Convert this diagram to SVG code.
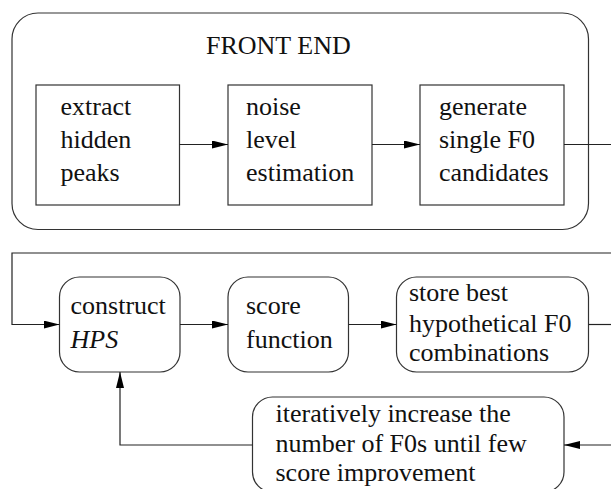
<svg xmlns="http://www.w3.org/2000/svg" width="611" height="489" viewBox="0 0 611 489">
<style>
.box{fill:#fff;stroke:#333;stroke-width:1.2}
.c{fill:none;stroke:#222;stroke-width:1.2}
</style>
<defs>
<marker id="ah" markerWidth="16" markerHeight="8" refX="16" refY="4" orient="auto" markerUnits="userSpaceOnUse">
<path d="M0,0 L16,4 L0,8 Z" fill="#000"/>
</marker>
</defs>
<g id="frontend">
<rect class="box" x="12" y="13" width="576.5" height="216.5" rx="26" ry="26"/>
<text x="206" y="54" font-family="Liberation Serif" font-size="26" fill="#111">FRONT END</text>
</g>
<g id="extract">
<rect class="box" x="36" y="85" width="143.5" height="120"/>
<text x="60.5" y="115" font-family="Liberation Serif" font-size="26" fill="#111">extract</text>
<text x="60.5" y="148" font-family="Liberation Serif" font-size="26" fill="#111">hidden</text>
<text x="60.5" y="181" font-family="Liberation Serif" font-size="26" fill="#111">peaks</text>
</g>
<g id="noise">
<rect class="box" x="228" y="85" width="144" height="120"/>
<text x="246" y="115" font-family="Liberation Serif" font-size="26" fill="#111">noise</text>
<text x="246" y="148" font-family="Liberation Serif" font-size="26" fill="#111">level</text>
<text x="246" y="181" font-family="Liberation Serif" font-size="26" fill="#111">estimation</text>
</g>
<g id="generate">
<rect class="box" x="420" y="85" width="144" height="120"/>
<text x="439" y="115" font-family="Liberation Serif" font-size="26" fill="#111">generate</text>
<text x="439" y="148" font-family="Liberation Serif" font-size="26" fill="#111">single F0</text>
<text x="439" y="181" font-family="Liberation Serif" font-size="26" fill="#111">candidates</text>
</g>
<g id="construct">
<rect class="box" x="59.5" y="277" width="120.5" height="95" rx="20" ry="20"/>
<text x="70.5" y="314" font-family="Liberation Serif" font-size="26" fill="#111">construct</text>
<text x="70.5" y="348" font-family="Liberation Serif" font-size="26" font-style="italic" fill="#111">HPS</text>
</g>
<g id="score">
<rect class="box" x="228" y="277" width="120.5" height="95" rx="20" ry="20"/>
<text x="246" y="314" font-family="Liberation Serif" font-size="26" fill="#111">score</text>
<text x="246" y="348" font-family="Liberation Serif" font-size="26" fill="#111">function</text>
</g>
<g id="store">
<rect class="box" x="396.5" y="277" width="192" height="95" rx="20" ry="20"/>
<text x="409" y="301" font-family="Liberation Serif" font-size="26" fill="#111">store best</text>
<text x="409" y="332" font-family="Liberation Serif" font-size="26" fill="#111">hypothetical F0</text>
<text x="409" y="361" font-family="Liberation Serif" font-size="26" fill="#111">combinations</text>
</g>
<g id="iterate">
<rect class="box" x="252.5" y="397" width="311.5" height="95" rx="20" ry="20"/>
<text x="275.5" y="422" font-family="Liberation Serif" font-size="26" fill="#111">iteratively increase the</text>
<text x="275.5" y="452" font-family="Liberation Serif" font-size="26" fill="#111">number of F0s until few</text>
<text x="275.5" y="481" font-family="Liberation Serif" font-size="26" fill="#111">score improvement</text>
</g>
<g id="connectors">
<line class="c" x1="179.5" y1="144.5" x2="228" y2="144.5" marker-end="url(#ah)"/>
<line class="c" x1="372" y1="144.5" x2="420" y2="144.5" marker-end="url(#ah)"/>
<line class="c" x1="564" y1="144.5" x2="612" y2="144.5"/>
<polyline class="c" points="612,253 12,253 12,324.5 59.5,324.5" marker-end="url(#ah)"/>
<line class="c" x1="180" y1="324.5" x2="228" y2="324.5" marker-end="url(#ah)"/>
<line class="c" x1="348.5" y1="324.5" x2="396.5" y2="324.5" marker-end="url(#ah)"/>
<line class="c" x1="588.5" y1="324.5" x2="612" y2="324.5"/>
<line class="c" x1="612" y1="445" x2="564" y2="445" marker-end="url(#ah)"/>
<polyline class="c" points="252.5,445 120,445 120,372" marker-end="url(#ah)"/>
</g>
</svg>
